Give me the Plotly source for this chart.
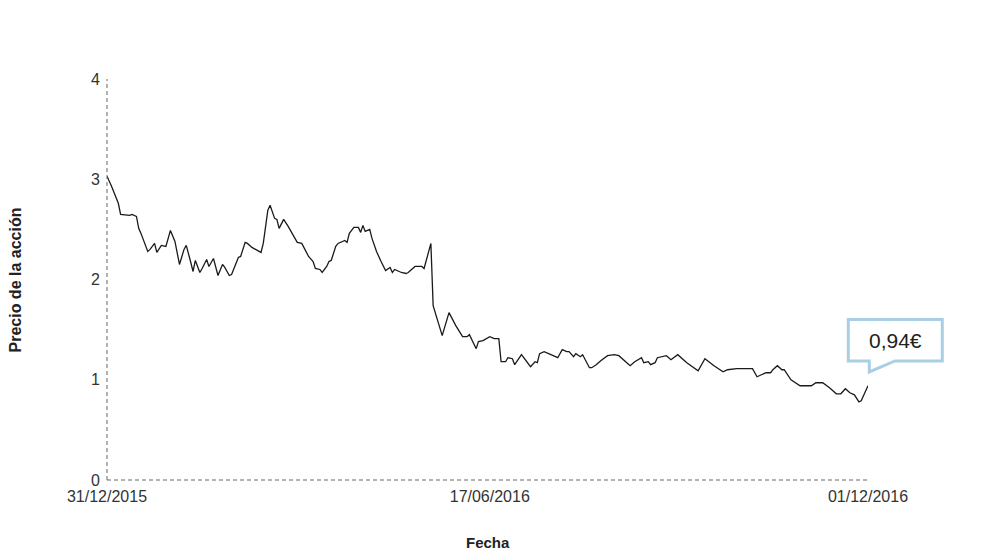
import pandas as pd
import plotly.graph_objects as go

# Days since 31/12/2015 and share price (EUR)
dias = [
    0, 2, 5, 6, 10, 11, 13, 14, 15, 18, 19, 21, 22, 24, 26, 28, 30, 32, 34, 35,
    37, 38, 39, 41, 42, 44, 45, 47, 49, 51, 52, 54, 55, 57, 58, 59, 61, 62, 64, 68,
    69, 71, 72, 74, 75, 76, 78, 80, 83, 84, 86, 89, 91, 92, 94, 95, 97, 98, 99, 101,
    102, 105, 106, 107, 109, 111, 112, 113, 114, 116, 117, 119, 121, 123, 125, 126, 127, 130, 132, 133,
    136, 139, 140, 143, 144, 145, 148, 151, 153, 154, 157, 159, 160, 163, 164, 166, 169, 171, 173, 174,
    176, 177, 179, 180, 183, 185, 187, 189, 190, 191, 193, 196, 199, 201, 203, 204, 206, 207, 209, 210,
    212, 213, 214, 216, 218, 221, 224, 226, 230, 231, 233, 236, 237, 239, 240, 242, 243, 245, 247, 249,
    251, 252, 256, 261, 264, 268, 272, 274, 278, 285, 287, 288, 291, 293, 294, 296, 298, 299, 302, 306,
    311, 313, 316, 319, 322, 324, 326, 328, 330, 332, 333, 336,
]
precio = [
    3.03, 2.93, 2.76, 2.65, 2.64, 2.65, 2.63, 2.51, 2.46, 2.28, 2.30, 2.36, 2.27, 2.34, 2.33, 2.49, 2.38, 2.15, 2.30, 2.34,
    2.17, 2.08, 2.19, 2.07, 2.11, 2.20, 2.13, 2.21, 2.04, 2.15, 2.12, 2.04, 2.05, 2.17, 2.22, 2.23, 2.37, 2.36, 2.32, 2.27,
    2.36, 2.69, 2.74, 2.61, 2.60, 2.51, 2.60, 2.53, 2.42, 2.37, 2.36, 2.23, 2.18, 2.11, 2.10, 2.07, 2.13, 2.18, 2.19, 2.33,
    2.36, 2.39, 2.37, 2.46, 2.52, 2.52, 2.47, 2.54, 2.48, 2.50, 2.41, 2.28, 2.18, 2.09, 2.12, 2.07, 2.10, 2.07, 2.06, 2.07,
    2.13, 2.13, 2.11, 2.36, 1.74, 1.67, 1.44, 1.67, 1.58, 1.54, 1.43, 1.43, 1.45, 1.31, 1.38, 1.39, 1.43, 1.41, 1.41, 1.18,
    1.18, 1.22, 1.21, 1.15, 1.25, 1.19, 1.13, 1.18, 1.17, 1.26, 1.28, 1.25, 1.22, 1.30, 1.28, 1.28, 1.23, 1.26, 1.23, 1.25,
    1.16, 1.12, 1.12, 1.15, 1.19, 1.24, 1.25, 1.24, 1.16, 1.14, 1.18, 1.22, 1.17, 1.18, 1.15, 1.17, 1.22, 1.23, 1.24, 1.20,
    1.24, 1.25, 1.17, 1.09, 1.21, 1.14, 1.08, 1.10, 1.11, 1.11, 1.03, 1.04, 1.07, 1.07, 1.10, 1.14, 1.10, 1.10, 1.00, 0.94,
    0.94, 0.97, 0.97, 0.92, 0.86, 0.86, 0.91, 0.87, 0.85, 0.78, 0.79, 0.94,
]
ticks_fecha = ["2015-12-31", "2016-06-17", "2016-12-01"]
ticks_y = [0, 1, 2, 3, 4]

fechas = pd.Timestamp("2015-12-31") + pd.to_timedelta(dias, unit="D")

fig = go.Figure()
fig.add_trace(go.Scatter(
    x=fechas, y=precio, mode="lines",
    line=dict(color="#1a1a1a", width=1.3),
    hoverinfo="skip", showlegend=False,
))

axis_dash = dict(color="#666666", width=1, dash="4px,3px")
# dashed axis lines
fig.add_shape(type="line", xref="paper", yref="paper", x0=0, x1=1, y0=0, y1=0, line=axis_dash)
fig.add_shape(type="line", xref="paper", yref="paper", x0=0, x1=0, y0=0, y1=1, line=axis_dash)

# speech-bubble callout for the last price
bx0, bx1, by0, by1 = 0.9741, 1.0976, 0.2968, 0.4005
tx, tx2, ty = 1.0017, 1.0355, 0.2694
fig.add_shape(
    type="path", xref="paper", yref="paper",
    path=(f"M {bx0},{by1} L {bx1},{by1} L {bx1},{by0} L {tx2},{by0} "
          f"L {tx},{ty} L {tx},{by0} L {bx0},{by0} Z"),
    line=dict(color="#a9cfe5", width=3), fillcolor="white", layer="above",
)
fig.add_annotation(
    xref="paper", yref="paper", x=(bx0 + bx1) / 2, y=(by0 + by1) / 2,
    xanchor="center", yanchor="middle",
    text=f"{precio[-1]:.2f}€".replace(".", ","), showarrow=False,
    font=dict(size=21, color="#222222"),
)

# axis titles
fig.add_annotation(
    xref="paper", yref="paper", x=0.5, y=-0.157, xanchor="center", yanchor="middle",
    text="<b>Fecha</b>", showarrow=False, font=dict(size=15, color="#222222"),
)
fig.add_annotation(
    xref="paper", yref="paper", x=-0.1196, y=0.5, xanchor="center", yanchor="middle",
    text="<b>Precio de la acción</b>", textangle=-90, showarrow=False,
    font=dict(size=16, color="#222222"),
)

fig.update_xaxes(
    range=[fechas[0], fechas[-1]], tickvals=ticks_fecha, tickformat="%d/%m/%Y",
    showgrid=False, zeroline=False, showline=False, ticks="",
    ticklabelstandoff=5, tickfont=dict(size=16, color="#333333"),
)
fig.update_yaxes(
    range=[0, 4], tickvals=ticks_y, showgrid=False, zeroline=False,
    showline=False, ticks="", ticklabelstandoff=6,
    tickfont=dict(size=16, color="#333333"),
)
# the page body adds an 8px offset, so the margins are shifted to compensate
fig.update_layout(
    width=990, height=556,
    margin=dict(l=99, r=130, t=71, b=84),
    paper_bgcolor="white", plot_bgcolor="white",
    font=dict(family="Liberation Sans, Arial, sans-serif"),
)
fig.write_html("out.html")
